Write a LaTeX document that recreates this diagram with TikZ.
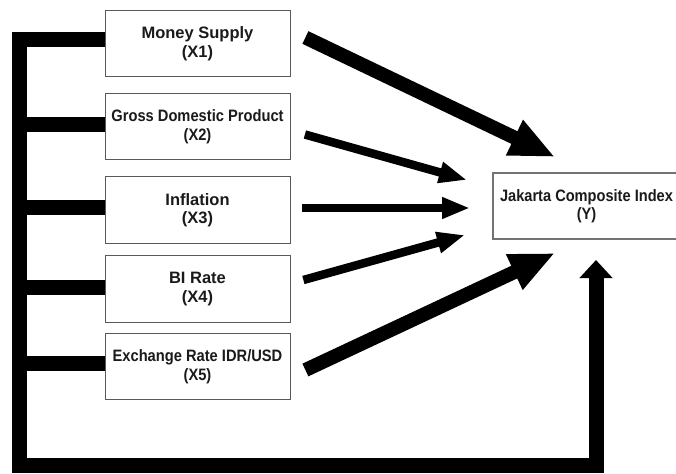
\documentclass[tikz,border=0pt]{standalone}
\usepackage{fontspec}
\setmainfont{Liberation Sans}
\newfontfamily\condfont{Liberation Sans}[FakeStretch=0.89]
\newfontfamily\ycondfont{Liberation Sans}[FakeStretch=0.885]
\usetikzlibrary{arrows.meta}
\definecolor{txt}{HTML}{1A1A1A}
\tikzset{
  varbox/.style={draw=black!65, line width=0.8pt, minimum width=185pt, minimum height=66.5pt,
    inner sep=0pt, align=center, text=txt, font=\fontsize{16.5}{18.5}\selectfont\bfseries},
  ybox/.style={draw=black!55, line width=1.3pt, minimum width=190pt, minimum height=66pt,
    inner sep=0pt, align=center, text=txt, font=\ycondfont\fontsize{16.5}{18.5}\selectfont\bfseries},
  bigarrow/.style={line width=14pt, line cap=butt, -{Triangle[length=45pt,width=36pt]}},
  smallarrow/.style={line width=8.5pt, line cap=butt, -{Triangle[length=28pt,width=20pt]}},
  bus/.style={line width=15pt, line cap=butt, line join=miter},
}
\begin{document}
\begin{tikzpicture}[x=1pt,y=-1pt]
\useasboundingbox (0,0) rectangle (676,473);
\clip (0,0) rectangle (676,473);
\fill[white] (0,0) rectangle (676,473);

\node[varbox] (x1) at (197.5,43.5) {Money Supply\\(X1)};
\node[varbox] (x2) at (197.5,126.5) {{\condfont Gross Domestic Product}\\{\condfont (X2)}};
\node[varbox] (x3) at (197.5,210) {Inflation\\(X3)};
\node[varbox] (x4) at (197.5,289) {BI Rate\\(X4)};
\node[varbox] (x5) at (197.5,366.5) {{\condfont Exchange Rate IDR/USD}\\{\condfont (X5)}};
\node[ybox] (y) at (588,206) {};
\node[text=txt, font=\ycondfont\fontsize{16.5}{18.5}\selectfont\bfseries, align=center, inner sep=0pt]
  (ylabel) at (586.5,206) {Jakarta Composite Index\\(Y)};

\coordinate (t1) at (555,157);
\coordinate (t2) at (467,180);
\coordinate (t3) at (470,208);
\coordinate (t4) at (465,235);
\coordinate (t5) at (555,253);
\coordinate (ty) at (596,260);
\coordinate (corner) at (19.5,465.5);

\draw[bigarrow] ([shift={(15,-6)}]x1.east) -- (t1);
\draw[smallarrow] ([shift={(14.5,8)}]x2.east) -- (t2);
\draw[smallarrow] ([shift={(12,-2)}]x3.east) -- (t3);
\draw[smallarrow] ([shift={(13,-9)}]x4.east) -- (t4);
\draw[bigarrow] ([shift={(15,3.5)}]x5.east) -- (t5);

\draw[bus, -{Triangle[length=18pt,width=32pt]}] ([yshift=3.5pt]x1.west) -| (corner) -| (ty);
\draw[bus] ([yshift=1.5pt]x2.west) -| (corner);
\draw[bus] ([yshift=2.5pt]x3.west) -| (corner);
\draw[bus] ([yshift=2pt]x4.west) -| (corner);
\draw[bus] ([yshift=3pt]x5.west) -| (corner);
\end{tikzpicture}
\end{document}
